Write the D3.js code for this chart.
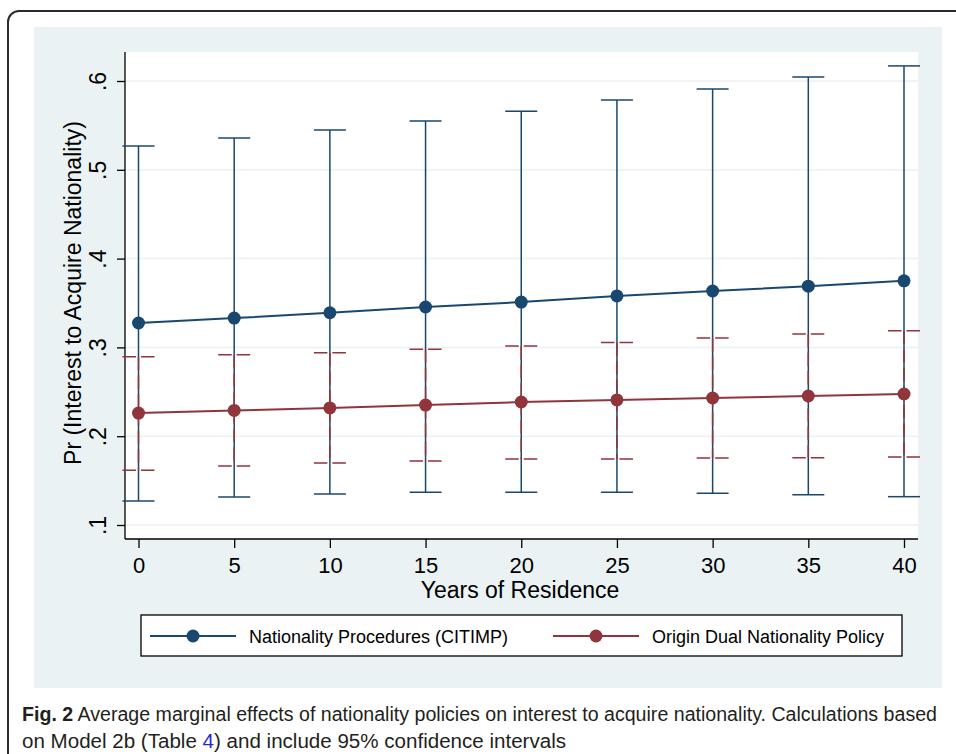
<!DOCTYPE html>
<head>
    <style>
        body { margin: 0; background: #fff; }
        svg { display: block; }
        text { font-family: "Liberation Sans", Arial, sans-serif; fill: #000; }
    </style>
</head>
<body>
    <script src="https://cdnjs.cloudflare.com/ajax/libs/d3/7.8.5/d3.min.js"></script>
    <script>
        // years of residence and predicted probabilities
        var years = [0, 5, 10, 15, 20, 25, 30, 35, 40];
        var citimp   = [0.3275, 0.333, 0.339, 0.3455, 0.351, 0.358, 0.3635, 0.369, 0.375];
        var citimpLo = [0.127, 0.1315, 0.135, 0.137, 0.137, 0.137, 0.1357, 0.1341, 0.1319];
        var citimpHi = [0.5268, 0.5358, 0.5448, 0.555, 0.566, 0.5786, 0.591, 0.6045, 0.617];
        var dual   = [0.226, 0.229, 0.2318, 0.235, 0.2385, 0.2408, 0.243, 0.2453, 0.2475];
        var dualLo = [0.1616, 0.1664, 0.1698, 0.172, 0.1743, 0.1743, 0.1755, 0.1758, 0.1766];
        var dualHi = [0.2895, 0.2918, 0.294, 0.298, 0.3016, 0.3055, 0.3106, 0.315, 0.3188];
        var yTicks = [0.1, 0.2, 0.3, 0.4, 0.5, 0.6];
        var seriesNames = ['Nationality Procedures (CITIMP)', 'Origin Dual Nationality Policy'];

        var blue = '#1a476f', red = '#90353b', bg = '#eaf2f3';

        var svg = d3.select('body')
                    .append('svg')
                    .attr('width', 956)
                    .attr('height', 754);

        // outer figure frame and stata graph region
        svg.append('rect')
           .attr('x', 8).attr('y', 11)
           .attr('width', 970).attr('height', 780)
           .attr('rx', 11)
           .attr('fill', '#fff')
           .attr('stroke', '#2b2b2b')
           .attr('stroke-width', 2);
        svg.append('rect')
           .attr('x', 34).attr('y', 27)
           .attr('width', 908).attr('height', 661)
           .attr('fill', bg);

        var plot = {left: 125, top: 52, right: 918, bottom: 539};
        svg.append('rect')
           .attr('x', plot.left).attr('y', plot.top)
           .attr('width', plot.right - plot.left)
           .attr('height', plot.bottom - plot.top)
           .attr('fill', '#fff');

        var x = d3.scaleLinear().domain([0, 40]).range([138.5, 904]);
        var y = d3.scaleLinear().domain([0.1, 0.6]).range([525, 81]);

        // gridlines
        svg.append('g')
           .selectAll('line')
           .data(yTicks)
           .enter()
           .append('line')
           .attr('x1', plot.left).attr('x2', plot.right)
           .attr('y1', d => y(d)).attr('y2', d => y(d))
           .attr('stroke', bg)
           .attr('stroke-width', 1.5);

        // y axis
        var yAxis = svg.append('g')
                       .attr('transform', 'translate(' + plot.left + ',0)')
                       .call(d3.axisLeft(y)
                               .tickValues(yTicks)
                               .tickSize(8)
                               .tickPadding(0)
                               .tickFormat(d => d3.format('.1f')(d).replace(/^0/, '')));
        yAxis.select('.domain')
             .attr('d', 'M0,' + plot.top + 'V' + plot.bottom)
             .attr('stroke-width', 1.3);
        yAxis.selectAll('.tick line').attr('stroke-width', 1.3);
        yAxis.selectAll('.tick text')
             .attr('x', null).attr('dy', null)
             .attr('text-anchor', 'middle')
             .attr('transform', 'translate(-19,0) rotate(-90)')
             .style('font-size', '23px');

        // x axis
        var xAxis = svg.append('g')
                       .attr('transform', 'translate(0,' + plot.bottom + ')')
                       .call(d3.axisBottom(x)
                               .tickValues(years)
                               .tickSize(9)
                               .tickPadding(0));
        xAxis.select('.domain')
             .attr('d', 'M' + plot.left + ',0H' + plot.right)
             .attr('stroke-width', 1.3);
        xAxis.selectAll('.tick line').attr('stroke-width', 1.3);
        xAxis.selectAll('.tick text')
             .attr('y', 34).attr('dy', null)
             .style('font-size', '22px');

        svg.append('text')
           .attr('x', 520).attr('y', 598)
           .attr('text-anchor', 'middle')
           .style('font-size', '23px')
           .text('Years of Residence');
        svg.append('text')
           .attr('transform', 'translate(81,293) rotate(-90)')
           .attr('text-anchor', 'middle')
           .style('font-size', '23px')
           .text('Pr (Interest to Acquire Nationality)');

        function drawSeries(vals, lo, hi, color, dash) {
            var g = svg.append('g');
            var idx = d3.range(years.length);
            g.selectAll('line.bar')
             .data(idx).enter().append('line')
             .attr('x1', i => x(years[i])).attr('x2', i => x(years[i]))
             .attr('y1', i => y(hi[i])).attr('y2', i => y(lo[i]))
             .attr('stroke', color).attr('stroke-width', 1.5)
             .attr('stroke-dasharray', dash);
            [hi, lo].forEach(function(arr) {
                g.selectAll(null)
                 .data(idx).enter().append('line')
                 .attr('x1', i => x(years[i]) - 16).attr('x2', i => x(years[i]) + 16)
                 .attr('y1', i => y(arr[i])).attr('y2', i => y(arr[i]))
                 .attr('stroke', color).attr('stroke-width', 1.5)
                 .attr('stroke-dasharray', dash);
            });
            g.append('path')
             .datum(idx)
             .attr('d', d3.line().x(i => x(years[i])).y(i => y(vals[i])))
             .attr('fill', 'none')
             .attr('stroke', color)
             .attr('stroke-width', 2);
            g.selectAll('circle')
             .data(idx).enter().append('circle')
             .attr('cx', i => x(years[i]))
             .attr('cy', i => y(vals[i]))
             .attr('r', 6.5)
             .attr('fill', color);
        }

        drawSeries(citimp, citimpLo, citimpHi, blue, null);
        drawSeries(dual, dualLo, dualHi, red, '13.5,5');

        // legend
        var leg = svg.append('g');
        leg.append('rect')
           .attr('x', 141).attr('y', 615)
           .attr('width', 761).attr('height', 41)
           .attr('fill', '#fff')
           .attr('stroke', '#000')
           .attr('stroke-width', 1.3);
        var legItems = [
            {name: seriesNames[0], color: blue, x0: 150},
            {name: seriesNames[1], color: red, x0: 553}
        ];
        var li = leg.selectAll('g.item')
                    .data(legItems).enter().append('g')
                    .attr('transform', d => 'translate(' + d.x0 + ',636)');
        li.append('line')
          .attr('x1', 0).attr('x2', 86)
          .attr('stroke', d => d.color).attr('stroke-width', 2);
        li.append('circle')
          .attr('cx', 43).attr('r', 6.5)
          .attr('fill', d => d.color);
        li.append('text')
          .attr('x', 99).attr('y', 6.5)
          .style('font-size', '18px')
          .text(d => d.name);

        // caption
        var cap1 = svg.append('text')
                      .attr('x', 22).attr('y', 721)
                      .attr('textLength', 915)
                      .attr('lengthAdjust', 'spacingAndGlyphs')
                      .style('font-size', '20px')
                      .style('fill', '#231f20');
        cap1.append('tspan').style('font-weight', 'bold').text('Fig. 2');
        cap1.append('tspan').text(' Average marginal effects of nationality policies on interest to acquire nationality. Calculations based');

        var cap2 = svg.append('text')
                      .attr('x', 22).attr('y', 748)
                      .attr('textLength', 544)
                      .attr('lengthAdjust', 'spacingAndGlyphs')
                      .style('font-size', '20px')
                      .style('fill', '#231f20');
        cap2.append('tspan').text('on Model 2b (Table ');
        cap2.append('tspan').style('fill', '#1f2bd9').text('4');
        cap2.append('tspan').text(') and include 95% confidence intervals');
    </script>
</body>
